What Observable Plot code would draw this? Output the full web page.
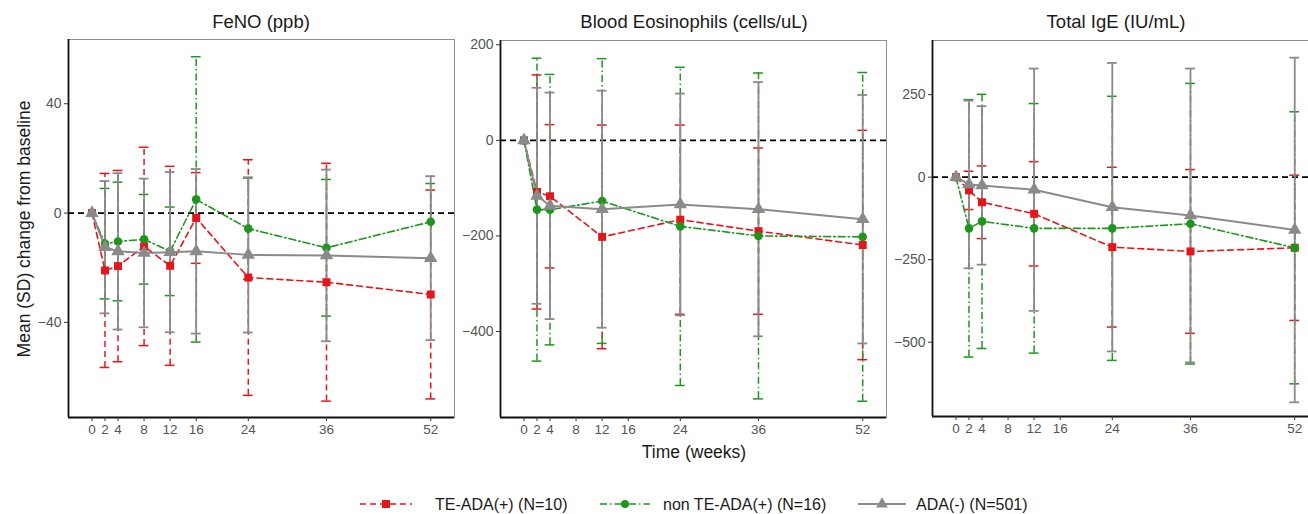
<!DOCTYPE html>
<html>
<head>
<meta charset="utf-8">
<script src="https://cdn.jsdelivr.net/npm/d3@7"></script>
<script src="https://cdn.jsdelivr.net/npm/@observablehq/plot@0.6"></script>
<style>
  html, body { margin: 0; padding: 0; background: #fff; overflow: hidden; }
  #root { position: relative; width: 1308px; height: 514px; overflow: hidden; font-family: "Liberation Sans", Arial, sans-serif; }
  .abs { position: absolute; }
  .lbl { position: absolute; transform: translate(-50%, -50%); white-space: nowrap; color: #1a1a1a; }
</style>
</head>
<body>
<div id="root"></div>
<script>
// ---------- data ----------
const panelTitles = ["FeNO (ppb)", "Blood Eosinophils (cells/uL)", "Total IgE (IU/mL)"];
const seriesNames = ["TE-ADA(+) (N=10)", "non TE-ADA(+) (N=16)", "ADA(-) (N=501)"];
const xTicks = [0, 2, 4, 8, 12, 16, 24, 36, 52];

const fenoWeeks = [0, 2, 4, 8, 12, 16, 24, 36, 52];
const fenoTE     = [0, -21, -19.4, -12.2, -19.3, -1.8, -23.6, -25.3, -29.8];
const fenoTEsd   = [0, 35.5, 35, 36.3, 36.4, 16.6, 43.1, 43.5, 38.2];
const fenoNon    = [0, -11.2, -10.4, -9.6, -14, 5, -5.7, -12.7, -3.2];
const fenoNonSd  = [0, 20.2, 21.7, 16.4, 16.2, 52.2, 18.5, 25, 14];
const fenoADA    = [0, -12.5, -14, -14.6, -14.3, -14, -15.3, -15.5, -16.5];
const fenoADAsd  = [0, 24.2, 28.6, 27.2, 29.3, 30.1, 28.4, 31.4, 30];
const fenoYTicks = [-40, 0, 40];

const eosWeeks = [0, 2, 4, 12, 24, 36, 52];
const eosTE     = [0, -108, -117, -202, -166, -190, -219];
const eosTEsd   = [0, 245, 150, 234, 198, 174, 240];
const eosNon    = [0, -145, -145, -127, -180, -200, -202];
const eosNonSd  = [0, 317, 283, 298, 333, 341, 344];
const eosADA    = [0, -116, -137, -144, -134, -144, -165];
const eosADAsd  = [0, 226, 237, 248, 232, 266, 260];
const eosYTicks = [-400, -200, 0, 200];

const igeWeeks = [0, 2, 4, 12, 24, 36, 52];
const igeTE     = [0, -40, -76, -111, -212, -225, -214];
const igeTEsd   = [0, 58, 110, 158, 242, 248, 220];
const igeNon    = [0, -155, -134, -155, -155, -141, -214];
const igeNonSd  = [0, 390, 385, 378, 400, 425, 412];
const igeADA    = [0, -22, -25, -38, -91, -116, -160];
const igeADAsd  = [0, 254, 240, 367, 437, 445, 522];
const igeYTicks = [-500, -250, 0, 250];

// ---------- styles ----------
const sty = [
  {color: "#e3161b", dash: "6,4", symbol: "square", r: 4.5, w: 1.6},
  {color: "#1e961e", dash: "7,3,1.5,3", symbol: "circle", r: 4.3, w: 1.6},
  {color: "#8a8a8a", dash: null, symbol: "triangle", r: 5, w: 2}
];

function rows(weeks, means, sds) {
  return weeks.map((w, i) => ({week: w, mean: means[i], sd: sds[i]}));
}

const panels = [
  {weeks: fenoWeeks, series: [[fenoTE, fenoTEsd], [fenoNon, fenoNonSd], [fenoADA, fenoADAsd]],
   yDomain: [-74.8, 63.5], yTicks: fenoYTicks, L: 68, T: 39, R: 454, B: 417},
  {weeks: eosWeeks, series: [[eosTE, eosTEsd], [eosNon, eosNonSd], [eosADA, eosADAsd]],
   yDomain: [-580, 209], yTicks: eosYTicks, L: 500, T: 40, R: 886, B: 417},
  {weeks: igeWeeks, series: [[igeTE, igeTEsd], [igeNon, igeNonSd], [igeADA, igeADAsd]],
   yDomain: [-725, 414], yTicks: igeYTicks, L: 932, T: 40, R: 1318, B: 416}
];
const xDomain = [-3.6, 55.65];
const capHalf = 0.75;

const root = document.getElementById("root");
const H = 470;

panels.forEach((p, pi) => {
  const data = p.series.map(([m, s]) => rows(p.weeks, m, s));
  const marks = [];
  marks.push(Plot.frame({stroke: "#8f8f8f", strokeWidth: 1}));
  marks.push(Plot.ruleY([0], {stroke: "#000", strokeWidth: 1.7, strokeDasharray: "6,4"}));
  // error bars (order: red, green, gray)
  data.forEach((d, si) => {
    const s = sty[si];
    const e = d.filter(r => r.sd > 0);
    const w = si === 2 ? 1.8 : 1.5;
    marks.push(Plot.ruleX(e, {x: "week", y1: r => r.mean - r.sd, y2: r => r.mean + r.sd,
      stroke: s.color, strokeWidth: w, strokeDasharray: s.dash}));
    marks.push(Plot.ruleY(e, {y: r => r.mean + r.sd, x1: r => r.week - capHalf, x2: r => r.week + capHalf,
      stroke: s.color, strokeWidth: w}));
    marks.push(Plot.ruleY(e, {y: r => r.mean - r.sd, x1: r => r.week - capHalf, x2: r => r.week + capHalf,
      stroke: s.color, strokeWidth: w}));
  });
  // lines
  [0, 1, 2].forEach(si => {
    const s = sty[si];
    marks.push(Plot.line(data[si], {x: "week", y: "mean", stroke: s.color, strokeWidth: s.w,
      strokeDasharray: s.dash}));
  });
  // points (gray on top)
  [0, 1, 2].forEach(si => {
    const s = sty[si];
    marks.push(Plot.dot(data[si], {x: "week", y: "mean", symbol: s.symbol, r: s.r, fill: s.color, stroke: "none"}));
  });
  // axis lines
  marks.push(Plot.ruleX([xDomain[0]], {stroke: "#111", strokeWidth: 1.8}));
  marks.push(Plot.ruleY([p.yDomain[0]], {stroke: "#111", strokeWidth: 1.8}));
  marks.push(Plot.axisX({ticks: xTicks, tickSize: 4, tickPadding: 3, fontSize: 13.5, label: null, stroke: "#333", fill: "#555"}));
  marks.push(Plot.axisY({ticks: p.yTicks, tickSize: 4, tickPadding: 3, fontSize: 14, label: null, stroke: "#333", fill: "#555"}));

  const svgLeft = p.L - 60;
  const chart = Plot.plot({
    width: (p.R - p.L) + 60 + 10,
    height: H,
    marginLeft: 60,
    marginRight: 10,
    marginTop: p.T,
    marginBottom: H - p.B,
    x: {domain: xDomain},
    y: {domain: p.yDomain},
    style: {fontFamily: "'Liberation Sans', Arial, sans-serif", background: "transparent", overflow: "visible"},
    marks
  });
  chart.classList.add("abs");
  chart.style.left = svgLeft + "px";
  chart.style.top = "0px";
  root.appendChild(chart);
});

// titles and axis labels
function label(text, x, y, size, rotate) {
  const d = document.createElement("div");
  d.className = "lbl";
  d.textContent = text;
  d.style.left = x + "px";
  d.style.top = y + "px";
  d.style.fontSize = size + "px";
  if (rotate) d.style.transform = "translate(-50%, -50%) rotate(-90deg)";
  root.appendChild(d);
}
label(panelTitles[0], 261, 22, 18.5);
label(panelTitles[1], 694, 22, 18.5);
label(panelTitles[2], 1116, 22, 18.5);
label("Mean (SD) change from baseline", 24, 229, 17.5, true);
label("Time (weeks)", 694, 452, 17.5);

// legend
const ns = "http://www.w3.org/2000/svg";
const leg = document.createElementNS(ns, "svg");
leg.setAttribute("width", 1308);
leg.setAttribute("height", 30);
leg.setAttribute("class", "abs");
leg.style.left = "0px";
leg.style.top = "489px";
const keys = [
  {x0: 360, x1: 412, tx: 435},
  {x0: 600, x1: 650, tx: 663},
  {x0: 858, x1: 906, tx: 916}
];
keys.forEach((k, i) => {
  const s = sty[i];
  const cy = 15;
  const ln = document.createElementNS(ns, "line");
  ln.setAttribute("x1", k.x0); ln.setAttribute("x2", k.x1);
  ln.setAttribute("y1", cy); ln.setAttribute("y2", cy);
  ln.setAttribute("stroke", s.color); ln.setAttribute("stroke-width", s.w);
  if (s.dash) ln.setAttribute("stroke-dasharray", s.dash);
  leg.appendChild(ln);
  const sym = document.createElementNS(ns, "path");
  const symObj = {square: d3.symbolSquare, circle: d3.symbolCircle, triangle: d3.symbolTriangle}[s.symbol];
  const area = s.symbol === "square" ? 64 : s.symbol === "circle" ? 50 : 60;
  sym.setAttribute("d", d3.symbol(symObj, area)());
  sym.setAttribute("transform", `translate(${(k.x0 + k.x1) / 2},${cy})`);
  sym.setAttribute("fill", s.color);
  leg.appendChild(sym);
  const t = document.createElementNS(ns, "text");
  t.setAttribute("x", k.tx); t.setAttribute("y", cy);
  t.setAttribute("dy", "0.35em");
  t.setAttribute("font-size", "16");
  t.setAttribute("font-family", "'Liberation Sans', Arial, sans-serif");
  t.setAttribute("fill", "#1a1a1a");
  t.textContent = seriesNames[i];
  leg.appendChild(t);
});
root.appendChild(leg);
</script>
</body>
</html>
